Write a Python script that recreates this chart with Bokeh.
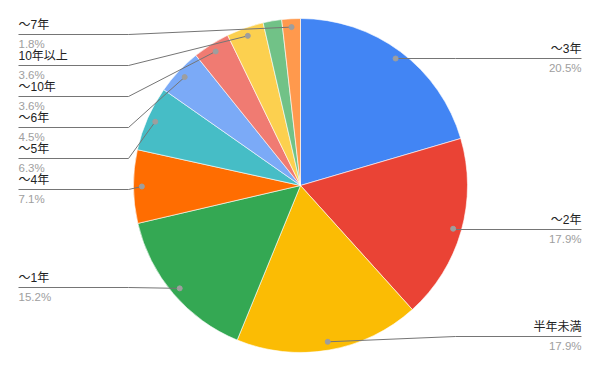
import numpy as np
from bokeh.plotting import figure
from bokeh.models import Range1d
from bokeh.embed import file_html
from bokeh.resources import INLINE
from bokeh.core.properties import value

# ---- data (clockwise from 12 o'clock) ----
categories = ["～3年", "～2年", "半年未満", "～1年", "～4年", "～5年",
              "～6年", "～10年", "10年以上", "～8年", "～7年"]
percents = [20.5, 17.9, 17.9, 15.2, 7.1, 6.3, 4.5, 3.6, 3.6, 1.8, 1.8]
colors = ["#4285F4", "#EA4335", "#FBBC04", "#34A853", "#FF6D01", "#46BDC6",
          "#7BAAF7", "#F07B72", "#FCD04F", "#71C287", "#FF994D"]

# ---- label layout (pixel rows from top of page) ----
label_side = ["right", "right", "right", "left", "left", "left",
              "left", "left", "left", None, "left"]
label_line_y = [58, 229, 336, 287, 189, 158, 127, 96, 65, None, 34]

W, H = 600, 371
CX, CY_PX, R = 300, 185, 167
CY = H - CY_PX

def py(ypix):
    return H - ypix

vals = np.array(percents, dtype=float)
frac = vals / vals.sum()
cum_end = np.cumsum(frac)
cum_start = cum_end - frac
theta_s = cum_start * 2 * np.pi  # clockwise from top
theta_e = cum_end * 2 * np.pi

p = figure(width=W, height=H, x_range=Range1d(0, W), y_range=Range1d(0, H),
           output_backend="svg", toolbar_location=None, min_border=0,
           x_axis_type=None, y_axis_type=None)
p.grid.visible = False
p.outline_line_color = None
p.background_fill_color = "white"

p.wedge(x=[CX] * len(vals), y=[CY] * len(vals), radius=R,
        start_angle=list(np.pi / 2 - theta_e), end_angle=list(np.pi / 2 - theta_s),
        direction="anticlock", fill_color=colors, line_color="white", line_width=0.6)

# leader lines, dots, labels
xs, ys, dx, dy = [], [], [], []
lt_x, lt_y, lt_t, lt_a = [], [], [], []
pc_x, pc_y, pc_t, pc_a = [], [], [], []
for i, cat in enumerate(categories):
    side = label_side[i]
    if side is None:
        continue
    mid = (theta_s[i] + theta_e[i]) / 2
    dxp = CX + 0.95 * R * np.sin(mid)
    dyp = CY + 0.95 * R * np.cos(mid)
    ly = py(label_line_y[i])
    if side == "right":
        ex = max(dxp, 455)
        xs.append([dxp, ex, 581]); ys.append([dyp, ly, ly])
        tx, al = 581, "right"
    else:
        xs.append([18, 128, dxp]); ys.append([ly, ly, dyp])
        tx, al = 18, "left"
    dx.append(dxp); dy.append(dyp)
    lt_x.append(tx); lt_y.append(ly + 10); lt_t.append(cat); lt_a.append(al)
    pc_x.append(tx); pc_y.append(ly - 9); pc_t.append(f"{percents[i]:.1f}%"); pc_a.append(al)

p.multi_line(xs=xs, ys=ys, line_color="#757575", line_width=1)
p.scatter(x=dx, y=dy, size=5, fill_color="#9e9e9e", line_color="#9e9e9e")

font = value("'Liberation Sans', 'Noto Sans CJK JP', sans-serif")
p.text(x=lt_x, y=lt_y, text=lt_t, text_align=lt_a, text_baseline="middle",
       text_font=font, text_font_size="12px", text_color="#222222")
p.text(x=pc_x, y=pc_y, text=pc_t, text_align=pc_a, text_baseline="middle",
       text_font=font, text_font_size="11.5px", text_color="#9e9e9e")

open("out.html", "w").write(file_html(p, INLINE))
